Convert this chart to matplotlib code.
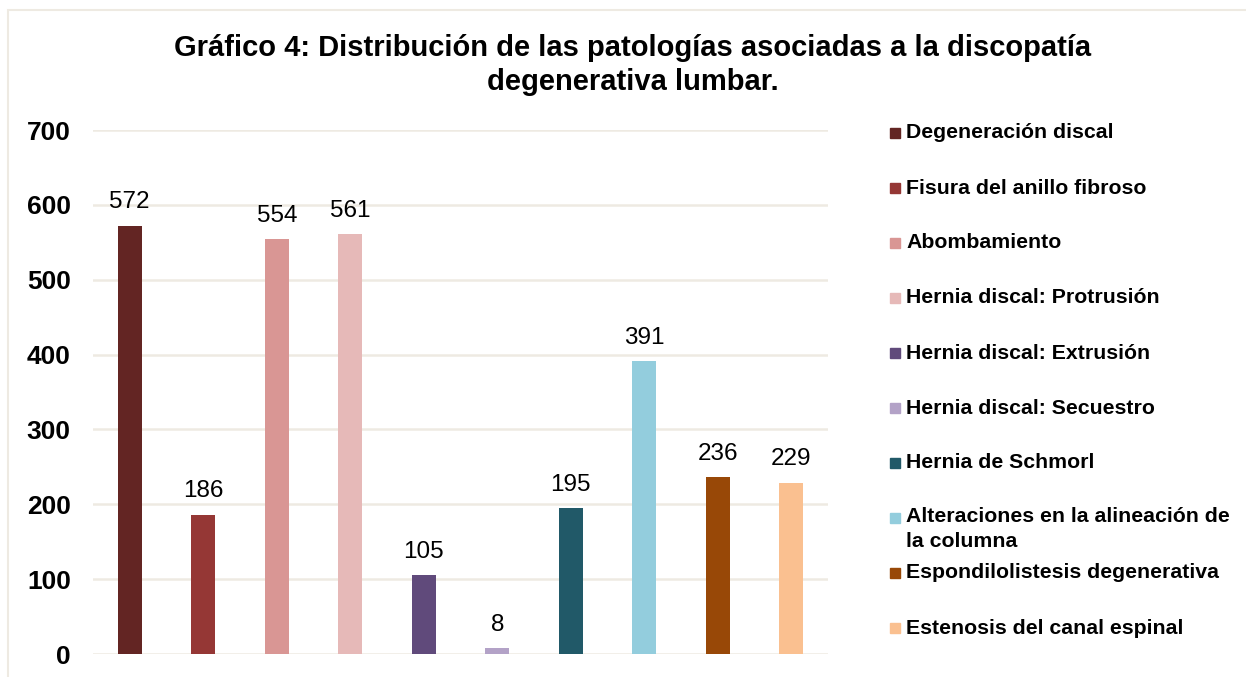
import matplotlib
matplotlib.use("Agg")
import matplotlib.pyplot as plt
from matplotlib.patches import Rectangle

categories = [
    "Degeneración discal",
    "Fisura del anillo fibroso",
    "Abombamiento",
    "Hernia discal: Protrusión",
    "Hernia discal: Extrusión",
    "Hernia discal: Secuestro",
    "Hernia de Schmorl",
    "Alteraciones en la alineación de\nla columna",
    "Espondilolistesis degenerativa",
    "Estenosis del canal espinal",
]
values = [572, 186, 554, 561, 105, 8, 195, 391, 236, 229]
colors = [
    "#632523", "#953735", "#D99694", "#E6B9B8", "#604A7B",
    "#B3A2C7", "#215968", "#93CDDD", "#984807", "#FAC090",
]
yticks = [0, 100, 200, 300, 400, 500, 600, 700]
title = "Gráfico 4: Distribución de las patologías asociadas a la discopatía\ndegenerativa lumbar."

plt.rcParams["font.family"] = ["Liberation Sans", "DejaVu Sans"]

W, H = 1246, 677
fig = plt.figure(figsize=(W / 100, H / 100), dpi=100)
ax = fig.add_axes([93 / W, 1 - 654 / H, (828 - 93) / W, (654 - 130) / H])

x = list(range(len(values)))
ax.bar(x, values, width=0.33, color=colors, zorder=2)
for xi, v in zip(x, values):
    ax.annotate(str(v), (xi, v), xytext=(0, 9), textcoords="offset points",
                ha="center", va="bottom", fontsize=17.5, zorder=3)

ax.set_xlim(-0.5, len(values) - 0.5)
ax.set_ylim(0, 700)
ax.set_yticks(yticks)
ax.set_yticklabels([str(t) for t in yticks], fontsize=19, fontweight="bold")
ax.tick_params(axis="y", length=0, pad=16)
ax.set_xticks([])
ax.grid(True, axis="y", color="#EEEAE2", linewidth=1.8, zorder=0)
for s in ax.spines.values():
    s.set_visible(False)

fig.text(633 / W, 1 - 65 / H, title, ha="center", va="center",
         fontsize=21, fontweight="bold", linespacing=1.25)

# legend drawn by hand so the two-line entry keeps the even spacing
leg_top = 133
leg_step = 55
for i, (lab, c) in enumerate(zip(categories, colors)):
    yc = leg_top + i * leg_step
    fig.add_artist(Rectangle((890 / W, 1 - (yc + 5) / H), 10 / W, 10 / H,
                             transform=fig.transFigure, color=c))
    if "\n" in lab:
        fig.text(906 / W, 1 - (yc - 11) / H, lab, ha="left", va="top",
                 fontsize=15.3, fontweight="bold", linespacing=1.4)
    else:
        fig.text(906 / W, 1 - yc / H, lab, ha="left", va="center",
                 fontsize=15.3, fontweight="bold")

# outer chart frame
fig.add_artist(Rectangle((8 / W, -0.1), 1.2, 1.1 - 10 / H, transform=fig.transFigure,
                         fill=False, edgecolor="#EEEAE2", linewidth=1.5))

fig.savefig("out.png", dpi=100)
